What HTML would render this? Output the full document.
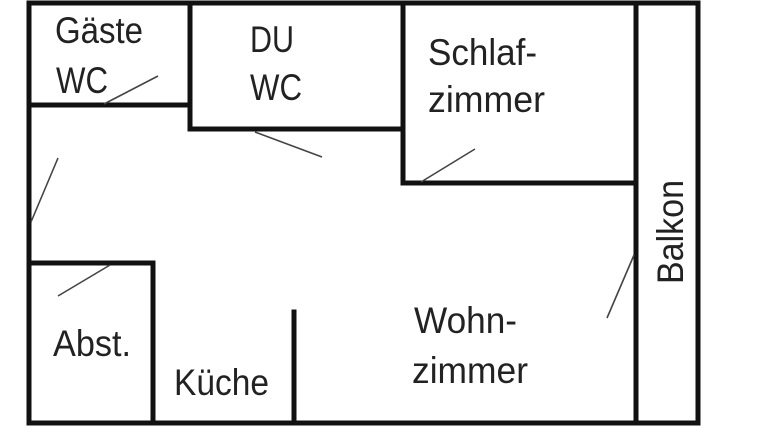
<!DOCTYPE html>
<html><head><meta charset="utf-8"><style>html,body{margin:0;padding:0;background:#fff}svg{display:block}</style></head>
<body>
<svg width="768" height="432" viewBox="0 0 768 432" xmlns="http://www.w3.org/2000/svg">
<g stroke="#111" stroke-width="5" fill="none" stroke-linecap="square">
<path d="M29 3 H698 V423 H29 Z"/>
<path d="M29 105 H190 V3"/>
<path d="M190 105 V129 H403 V3"/>
<path d="M403 129 V183 H636"/>
<path d="M636 3 V423"/>
<path d="M29 263 H153 V423"/>
<path d="M294 312 V423"/>
</g>
<g stroke="#444" stroke-width="1.6">
<line x1="104" y1="104" x2="158" y2="76"/>
<line x1="255" y1="132" x2="322" y2="157"/>
<line x1="31" y1="222" x2="58" y2="158"/>
<line x1="58" y1="296" x2="110" y2="265"/>
<line x1="421" y1="182" x2="475" y2="149"/>
<line x1="607" y1="318" x2="634" y2="255"/>
</g>
<g font-family="Liberation Sans, sans-serif" font-size="37" fill="#222">
<text x="55" y="43" textLength="88" lengthAdjust="spacingAndGlyphs">Gäste</text>
<text x="56" y="93" textLength="52" lengthAdjust="spacingAndGlyphs">WC</text>
<text x="250" y="52" textLength="44" lengthAdjust="spacingAndGlyphs">DU</text>
<text x="250" y="100" textLength="52" lengthAdjust="spacingAndGlyphs">WC</text>
<text x="428" y="65" textLength="109" lengthAdjust="spacingAndGlyphs">Schlaf-</text>
<text x="428" y="112" textLength="117" lengthAdjust="spacingAndGlyphs">zimmer</text>
<text x="53" y="356" textLength="78" lengthAdjust="spacingAndGlyphs">Abst.</text>
<text x="174" y="395" textLength="95" lengthAdjust="spacingAndGlyphs">Küche</text>
<text x="414" y="333" textLength="103" lengthAdjust="spacingAndGlyphs">Wohn-</text>
<text x="412" y="383" textLength="116" lengthAdjust="spacingAndGlyphs">zimmer</text>
<text transform="translate(683 284) rotate(-90)" textLength="104" lengthAdjust="spacingAndGlyphs">Balkon</text>
</g>
</svg>
</body></html>
